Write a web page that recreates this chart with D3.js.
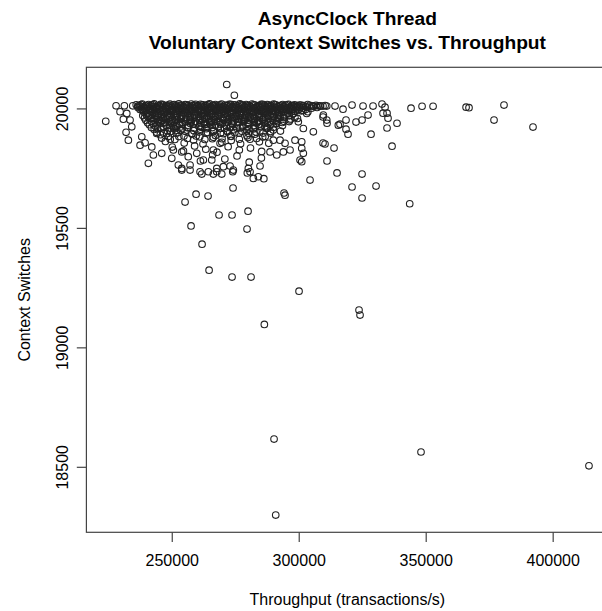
<!DOCTYPE html>
<html>
<head>
<meta charset="utf-8">
<script src="https://cdn.jsdelivr.net/npm/d3@7"></script>
<style>
    body { margin: 0; background: #fff; }
    text { font-family: "Liberation Sans", Arial, Helvetica, sans-serif; fill: #000; }
</style>
</head>
<body>
<svg id="chart"></svg>
<script>
// ============================================================================
// AsyncClock Thread - voluntary context switches vs. throughput (R-style scatter)
// ============================================================================

const titleLines = ['AsyncClock Thread', 'Voluntary Context Switches vs. Throughput'];
const xLabel = 'Throughput (transactions/s)';
const yLabel = 'Context Switches';
const xTicks = [250000, 300000, 350000, 400000];
const yTicks = [18500, 19000, 19500, 20000];

// [throughput, context switches] - isolated points around the main cluster
const outliers = [
    [224000, 19946], [271650, 20100], [274650, 20055], [255240, 19608], [259570, 19641],
    [264290, 19633], [274130, 19667], [268620, 19554], [273740, 19554], [280040, 19570],
    [257600, 19508], [279640, 19495], [261930, 19432], [264700, 19323], [273740, 19294],
    [281220, 19294], [300120, 19235], [323740, 19156], [324140, 19135], [286460, 19096],
    [294210, 19646], [294600, 19637], [304450, 19700], [315080, 19730], [324930, 19725],
    [320990, 19671], [330440, 19675], [324930, 19625], [343700, 19601], [282130, 19707],
    [284090, 19714], [286260, 19706], [290280, 18616], [348150, 18562], [414290, 18504],
    [290940, 18298], [348560, 20009], [352900, 20009], [365900, 20005], [367050, 20003],
    [380830, 20014], [376900, 19951], [392250, 19922], [344220, 20001], [338700, 19938],
    [336740, 19842], [334770, 19918], [328470, 19892], [319410, 19892], [318620, 19913],
    [309570, 19855], [313900, 19834], [311140, 19780], [310350, 19851], [301180, 19860],
    [301180, 19833], [301810, 19812], [300510, 19784], [301180, 19777]
];

// right end of the top band and the left edge of the cluster
const bandEdge = [
    [309570, 20010], [314290, 20010], [317440, 19997], [320990, 20014], [325320, 20010],
    [329260, 20010], [332800, 20018], [333980, 20005], [334770, 19980], [335160, 19959],
    [309570, 19964], [311140, 19938], [316260, 19934], [318620, 19951], [322560, 19943],
    [324930, 19951], [327290, 19972], [333190, 19980], [305750, 20010], [308390, 20010],
    [311030, 20010], [309690, 19972], [311030, 19951], [315590, 19930], [305750, 19902],
    [301810, 19916], [299840, 19944], [303150, 19979],
    [228070, 20011], [231340, 20011], [234650, 20011], [229640, 19986], [232280, 19979],
    [230940, 19955], [233580, 19951], [232010, 19900], [232910, 19867], [234250, 19923]
];

// lower fringe of the cluster
const fringe = [
    [290000, 19867], [292640, 19867], [294610, 19854], [298540, 19867], [291340, 19805],
    [293940, 19818], [296580, 19826], [288700, 19818], [284760, 19759], [280160, 19749],
    [280830, 19735], [267720, 19735], [270320, 19756], [272960, 19759], [274250, 19742],
    [269020, 19854], [266380, 19826], [265750, 19784], [253940, 19742], [257200, 19742],
    [261810, 19725], [266380, 19725], [269690, 19725], [274020, 19735], [279760, 19730],
    [238190, 19881], [237520, 19846], [239490, 19856], [242130, 19839], [242760, 19805],
    [240790, 19770], [246060, 19812], [250000, 19791], [252600, 19763], [253940, 19749],
    [257200, 19763], [261140, 19735], [264410, 19735], [267720, 19749], [250630, 19826],
    [253940, 19818], [259840, 19812], [262440, 19784], [244090, 19895], [248030, 19895],
    [251970, 19909]
];

// the dense band sitting right at ~20000
const bandTop = [
    [236000, 20015], [237300, 20012], [238400, 20018], [239600, 20011], [240900, 20016],
    [242000, 20013], [243100, 20019], [244500, 20010], [245600, 20017], [246800, 20014],
    [248000, 20012], [249300, 20018], [250400, 20015], [251600, 20011], [252800, 20019],
    [254000, 20013], [255300, 20016], [256400, 20012], [257700, 20018], [258800, 20014],
    [260000, 20011], [261300, 20017], [262400, 20015], [263600, 20012], [264900, 20019],
    [266000, 20013], [267200, 20016], [268500, 20011], [269600, 20018], [270800, 20014],
    [272100, 20012], [273200, 20017], [274400, 20015], [275700, 20011], [276800, 20019],
    [278000, 20013], [279300, 20016], [280400, 20012], [281600, 20018], [282900, 20014],
    [284000, 20011], [285200, 20017], [286500, 20013], [287600, 20016], [288800, 20012],
    [290100, 20018], [291200, 20014], [292400, 20011], [293700, 20016], [294800, 20013],
    [296000, 20017], [297300, 20012], [298400, 20015], [299600, 20011], [300900, 20014],
    [302000, 20012], [303500, 20016], [305100, 20011], [306800, 20013], [308600, 20010],
    [310400, 20012]
];
const bandTop2 = [
    [236600, 20010], [237900, 20016], [239000, 20007], [240200, 20013], [241400, 20009],
    [242600, 20015], [243800, 20006], [245000, 20012], [246200, 20017], [247400, 20008],
    [248600, 20014], [249800, 20010], [251000, 20016], [252200, 20007], [253400, 20013],
    [254600, 20009], [255800, 20015], [257000, 20006], [258200, 20012], [259400, 20017],
    [260600, 20008], [261800, 20014], [263000, 20010], [264200, 20016], [265400, 20007],
    [266600, 20013], [267800, 20009], [269000, 20015], [270200, 20006], [271400, 20012],
    [272600, 20017], [273800, 20008], [275000, 20014], [276200, 20010], [277400, 20016],
    [278600, 20007], [279800, 20013], [281000, 20009], [282200, 20015], [283400, 20006],
    [284600, 20012], [285800, 20017], [287000, 20008], [288200, 20014], [289400, 20010],
    [290600, 20016], [291800, 20007], [293000, 20013], [294200, 20009], [295400, 20015],
    [296600, 20006], [297800, 20012], [299000, 20008], [300200, 20014], [301400, 20010],
    [302800, 20007], [304300, 20013], [306000, 20009], [307700, 20011]
];
const bandMid = [
    [236700, 20004], [237900, 20008], [239100, 20002], [240300, 20006], [241500, 20001],
    [242700, 20007], [243900, 20003], [245100, 20009], [246200, 20005], [247500, 20001],
    [248700, 20007], [249900, 20003], [251000, 20008], [252200, 20002], [253500, 20006],
    [254700, 20004], [255900, 20009], [257000, 20001], [258200, 20005], [259500, 20007],
    [260700, 20002], [261900, 20008], [263000, 20004], [264200, 20006], [265500, 20001],
    [266700, 20009], [267900, 20003], [269000, 20005], [270200, 20007], [271500, 20002],
    [272700, 20008], [273900, 20004], [275000, 20006], [276200, 20001], [277500, 20009],
    [278700, 20003], [279900, 20005], [281000, 20007], [282200, 20002], [283500, 20008],
    [284700, 20004], [285900, 20006], [287000, 20001], [288200, 20007], [289500, 20003],
    [290700, 20005], [291900, 20008], [293000, 20002], [294200, 20006], [295500, 20004],
    [296700, 20001], [297900, 20007], [299100, 20003], [300400, 20005], [301800, 20002],
    [303300, 20006], [305000, 20001], [307200, 20004]
];
const bandLow = [
    [237500, 19995], [238800, 19991], [240000, 19998], [241300, 19993], [242500, 19996],
    [243800, 19990], [245000, 19997], [246300, 19992], [247600, 19999], [248900, 19994],
    [250100, 19991], [251400, 19997], [252600, 19993], [253900, 19998], [255100, 19990],
    [256400, 19995], [257600, 19992], [258900, 19999], [260100, 19994], [261400, 19991],
    [262600, 19996], [263900, 19993], [265100, 19998], [266400, 19990], [267600, 19995],
    [268900, 19992], [270100, 19997], [271400, 19994], [272600, 19999], [273900, 19991],
    [275100, 19996], [276400, 19993], [277600, 19998], [278900, 19990], [280100, 19995],
    [281400, 19992], [282600, 19997], [283900, 19994], [285100, 19991], [286400, 19998],
    [287600, 19993], [288900, 19996], [290100, 19990], [291400, 19995], [292600, 19992],
    [293900, 19997], [295100, 19994], [296400, 19991], [297800, 19996], [299300, 19993],
    [301000, 19990], [302700, 19995],
    [239000, 19984], [240600, 19979], [242200, 19987], [243800, 19981], [245300, 19988],
    [246900, 19983], [248500, 19978], [250000, 19986], [251600, 19981], [253200, 19989],
    [254700, 19983], [256300, 19979], [257900, 19986], [259400, 19982], [261000, 19988],
    [262600, 19980], [264100, 19985], [265700, 19979], [267300, 19987], [268800, 19982],
    [270400, 19988], [272000, 19980], [273500, 19985], [275100, 19983], [276700, 19978],
    [278200, 19986], [279800, 19981], [281400, 19988], [283000, 19983], [284500, 19979],
    [286100, 19986], [287700, 19981], [289200, 19987], [290800, 19982], [292400, 19978],
    [294000, 19985], [295600, 19980], [297300, 19987]
];
const bandLow2 = [
    [238200, 19997], [239500, 19989], [240800, 19995], [242000, 19987], [243200, 19993],
    [244400, 19999], [245600, 19986], [246800, 19992], [248100, 19998], [249400, 19988],
    [250700, 19994], [251900, 19987], [253100, 19996], [254300, 19990], [255600, 19998],
    [256900, 19988], [258100, 19994], [259300, 19986], [260500, 19997], [261800, 19991],
    [263100, 19989], [264400, 19995], [265700, 19987], [267000, 19999], [268200, 19990],
    [269400, 19996], [270700, 19988], [272000, 19994], [273200, 19986], [274500, 19998],
    [275800, 19992], [277000, 19988], [278300, 19995], [279500, 19987], [280800, 19999],
    [282000, 19990], [283300, 19996], [284600, 19988], [285800, 19993], [287100, 19986],
    [288300, 19997], [289600, 19991], [290900, 19988], [292200, 19994], [293400, 19987],
    [294700, 19999], [296000, 19990], [297200, 19995], [298600, 19988], [300100, 19997],
    [301700, 19991], [303600, 19986]
];

// spread below the band, thinning out downwards
const spread = [
    [238600, 19970], [240700, 19964], [242300, 19974], [244100, 19967], [245800, 19972],
    [247300, 19963], [249000, 19969], [250700, 19975], [252300, 19966], [254000, 19971],
    [255600, 19963], [257200, 19968], [258900, 19974], [260500, 19965], [262200, 19970],
    [263800, 19962], [265400, 19976], [267100, 19967], [268700, 19972], [270400, 19964],
    [272000, 19969], [273700, 19975], [275300, 19966], [277000, 19971], [278600, 19963],
    [280300, 19968], [282000, 19974], [283600, 19965], [285300, 19970], [287000, 19962],
    [288700, 19973], [290400, 19967], [292100, 19971], [294000, 19964], [296200, 19969],
    [298500, 19962],
    [239800, 19950], [242000, 19946], [243900, 19955], [245900, 19948], [247800, 19957],
    [249700, 19944], [251600, 19952], [253500, 19958], [255400, 19947], [257300, 19954],
    [259200, 19945], [261100, 19951], [263000, 19957], [264900, 19946], [266800, 19953],
    [268700, 19944], [270600, 19950], [272500, 19956], [274400, 19947], [276300, 19954],
    [278200, 19945], [280100, 19951], [282000, 19957], [283900, 19948], [285800, 19953],
    [287700, 19944], [289700, 19950], [291800, 19956], [294100, 19946], [296500, 19952],
    [241200, 19932], [243500, 19926], [245600, 19938], [247800, 19929], [250000, 19935],
    [252100, 19927], [254300, 19940], [256400, 19930], [258600, 19936], [260700, 19925],
    [262900, 19933], [265000, 19939], [267200, 19928], [269300, 19934], [271500, 19926],
    [273600, 19937], [275800, 19931], [277900, 19927], [280100, 19938], [282300, 19929],
    [284500, 19935], [286700, 19926], [288900, 19932], [291200, 19938], [293600, 19928],
    [243100, 19912], [245700, 19918], [248300, 19906], [250900, 19915], [253500, 19909],
    [256100, 19919], [258700, 19907], [261300, 19913], [263900, 19920], [266500, 19908],
    [269100, 19916], [271700, 19905], [274300, 19911], [276900, 19918], [279500, 19907],
    [282100, 19914], [284700, 19906], [287300, 19917], [290000, 19910], [292800, 19905],
    [245500, 19890], [248600, 19882], [251700, 19897], [254800, 19885], [257900, 19893],
    [261000, 19881], [264100, 19899], [267200, 19887], [270300, 19894], [273400, 19883],
    [276500, 19896], [279600, 19886], [282700, 19892], [285800, 19880], [288900, 19897],
    [247500, 19862], [251200, 19870], [254900, 19855], [258600, 19868], [262300, 19851],
    [266000, 19873], [269700, 19858], [273400, 19866], [277100, 19852], [280800, 19871],
    [284500, 19860], [288200, 19854],
    [250200, 19838], [254600, 19822], [259000, 19843], [263400, 19829], [267800, 19817],
    [272200, 19840], [276600, 19826], [281000, 19834], [285400, 19820],
    [256500, 19798], [261300, 19780], [266100, 19806], [270900, 19788], [275700, 19801],
    [280500, 19775], [285300, 19792]
];
const spread2 = [
    [239300, 19960], [241100, 19967], [243000, 19957], [244800, 19963], [246600, 19958],
    [248400, 19966], [250200, 19955], [252000, 19961], [253800, 19967], [255600, 19956],
    [257400, 19962], [259200, 19968], [261000, 19958], [262800, 19964], [264600, 19955],
    [266400, 19961], [268200, 19967], [270000, 19957], [271800, 19963], [273600, 19956],
    [275400, 19966], [277200, 19960], [279000, 19955], [280800, 19964], [282600, 19958],
    [284400, 19967], [286200, 19961], [288000, 19956], [290000, 19964], [292000, 19958],
    [294200, 19961], [296800, 19956],
    [240500, 19940], [242700, 19936], [244700, 19944], [246800, 19938], [248900, 19946],
    [251000, 19941], [253100, 19935], [255200, 19943], [257300, 19937], [259400, 19945],
    [261500, 19939], [263600, 19935], [265700, 19942], [267800, 19946], [269900, 19937],
    [272000, 19943], [274100, 19935], [276200, 19940], [278300, 19945], [280400, 19936],
    [282500, 19942], [284600, 19946], [286700, 19937], [288900, 19943], [291100, 19936],
    [293500, 19941],
    [242000, 19920], [244400, 19916], [246800, 19923], [249200, 19918], [251600, 19924],
    [254000, 19915], [256400, 19921], [258800, 19917], [261200, 19923], [263600, 19915],
    [266000, 19920], [268400, 19924], [270800, 19916], [273200, 19922], [275600, 19917],
    [278000, 19923], [280400, 19915], [282800, 19920], [285200, 19924], [287600, 19916],
    [290100, 19921],
    [244000, 19900], [246800, 19896], [249600, 19903], [252400, 19898], [255200, 19904],
    [258000, 19895], [260800, 19901], [263600, 19897], [266400, 19903], [269200, 19896],
    [272000, 19902], [274800, 19898], [277600, 19904], [280400, 19895], [283200, 19901],
    [286000, 19897], [288900, 19903],
    [246000, 19876], [249400, 19871], [252800, 19882], [256200, 19874], [259600, 19885],
    [263000, 19870], [266400, 19879], [269800, 19873], [273200, 19884], [276600, 19871],
    [280000, 19878], [283400, 19874], [286800, 19882]
];
const spread3 = [
    [240000, 19975], [241800, 19958], [243500, 19970], [245200, 19952], [246900, 19976],
    [248600, 19960], [250300, 19948], [252000, 19972], [253700, 19955], [255400, 19978],
    [257100, 19950], [258800, 19962], [260500, 19976], [262200, 19953], [263900, 19968],
    [265600, 19949], [267300, 19973], [269000, 19958], [270700, 19976], [272400, 19951],
    [274100, 19965], [275800, 19977], [277500, 19952], [279200, 19970], [280900, 19958],
    [282600, 19948], [284300, 19975], [286000, 19955], [287700, 19968], [289400, 19978],
    [291100, 19950], [292800, 19966], [294500, 19974], [296200, 19945], [297900, 19978],
    [299500, 19958],
    [244300, 19930], [247200, 19942], [250800, 19922], [254100, 19933], [257700, 19944],
    [261900, 19921], [265300, 19931], [268800, 19942], [272700, 19920], [276000, 19944],
    [279800, 19924], [283600, 19940], [287400, 19923], [291600, 19945]
];

const points = [].concat(bandTop, bandTop2, bandMid, bandLow, bandLow2,
    spread, spread2, spread3, fringe, bandEdge, outliers);

const width = 602;
const height = 611;
// plot region (the right edge of the box lies just outside the picture)
const margin = { top: 67.3, right: -6.3, bottom: 78.7, left: 86.4 };
const w = width - margin.left - margin.right;
const h = height - margin.top - margin.bottom;
const fontSize = 16;
const lineH = 19.2;

// R-style axis ranges: data extent padded by 4% on each side
function padded(extent) {
    const pad = (extent[1] - extent[0]) * 0.04;
    return [extent[0] - pad, extent[1] + pad];
}

const xScale = d3.scaleLinear()
    .domain(padded(d3.extent(points, d => d[0])))
    .range([0, w]);
const yScale = d3.scaleLinear()
    .domain(padded(d3.extent(points, d => d[1])))
    .range([h, 0]);

const svg = d3.select('#chart')
    .attr('width', width)
    .attr('height', height);

const g = svg.append('g')
    .attr('transform', `translate(${margin.left},${margin.top})`);

// Points
g.append('g')
    .selectAll('circle')
    .data(points)
    .join('circle')
    .attr('cx', d => xScale(d[0]))
    .attr('cy', d => yScale(d[1]))
    .attr('r', 3.3)
    .attr('fill', 'none')
    .attr('stroke', '#222')
    .attr('stroke-width', 1.1);

// Box
g.append('rect')
    .attr('x', 0).attr('y', 0)
    .attr('width', w).attr('height', h)
    .attr('fill', 'none')
    .attr('stroke', '#444')
    .attr('stroke-width', 1.2);

// Axes
const xAxis = g.append('g')
    .attr('transform', `translate(0,${h})`)
    .call(d3.axisBottom(xScale)
        .tickValues(xTicks)
        .tickFormat(d3.format('d'))
        .tickSize(9.6)
        .tickPadding(13.2));

const yAxis = g.append('g')
    .call(d3.axisLeft(yScale)
        .tickValues(yTicks)
        .tickFormat(d3.format('d'))
        .tickSize(9.6));

[xAxis, yAxis].forEach(ax => {
    ax.select('.domain').remove();
    ax.selectAll('line').attr('stroke', '#444').attr('stroke-width', 1.2);
    ax.selectAll('text')
        .attr('font-size', fontSize)
        .attr('font-family', '"Liberation Sans", Arial, sans-serif')
        .attr('fill', '#111');
});

// y tick labels run parallel to the axis, like R's default las = 0
yAxis.selectAll('.tick text')
    .attr('x', 0)
    .attr('y', -18.4)
    .attr('dy', null)
    .attr('text-anchor', 'middle')
    .attr('transform', 'rotate(-90)');

// Axis titles
svg.append('text')
    .attr('x', margin.left + w / 2)
    .attr('y', margin.top + h + 34.2 + 2 * lineH)
    .attr('text-anchor', 'middle')
    .attr('font-size', fontSize)
    .attr('fill', '#111')
    .text(xLabel);

svg.append('text')
    .attr('transform', `translate(${margin.left - 18.4 - 2 * lineH},${margin.top + h / 2}) rotate(-90)`)
    .attr('text-anchor', 'middle')
    .attr('font-size', fontSize)
    .attr('fill', '#111')
    .text(yLabel);

// Title
svg.append('g')
    .selectAll('text')
    .data(titleLines)
    .join('text')
    .attr('x', margin.left + w / 2)
    .attr('y', (d, i) => 25 + i * 23.5)
    .attr('text-anchor', 'middle')
    .attr('font-size', 19.2)
    .attr('font-weight', 'bold')
    .text(d => d);
</script>
</body>
</html>
